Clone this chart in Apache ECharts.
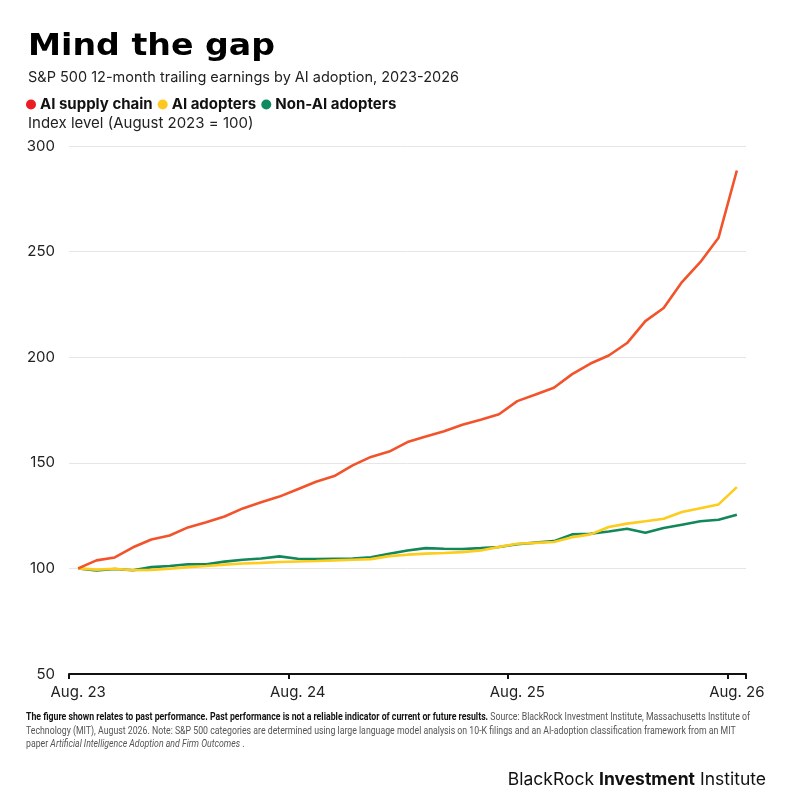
<!DOCTYPE html>
<html>
<head>
<meta charset="utf-8">
<script src="https://cdn.jsdelivr.net/npm/echarts@6/dist/echarts.min.js"></script>
<style>
  html, body { margin: 0; padding: 0; background: #fff; }
  #chart { width: 800px; height: 800px; }
</style>
</head>
<body>
<div id="chart"></div>
<script>
// monthly, Aug 2023 .. Aug 2026
var months = [
  'Aug. 23', 'Sep. 23', 'Oct. 23', 'Nov. 23', 'Dec. 23', 'Jan. 24', 'Feb. 24', 'Mar. 24', 'Apr. 24', 'May 24', 'Jun. 24', 'Jul. 24',
  'Aug. 24', 'Sep. 24', 'Oct. 24', 'Nov. 24', 'Dec. 24', 'Jan. 25', 'Feb. 25', 'Mar. 25', 'Apr. 25', 'May 25', 'Jun. 25', 'Jul. 25',
  'Aug. 25', 'Sep. 25', 'Oct. 25', 'Nov. 25', 'Dec. 25', 'Jan. 26', 'Feb. 26', 'Mar. 26', 'Apr. 26', 'May 26', 'Jun. 26', 'Jul. 26',
  'Aug. 26'
];

var supplyChain = [
  100, 103.8, 105.2, 110, 113.7, 115.6, 119.4, 121.8, 124.6, 128.4, 131.3, 134,
  137.5, 141, 143.7, 148.8, 152.8, 155.3, 159.8, 162.5, 164.9, 168, 170.4, 173,
  179.2, 182.3, 185.5, 192, 197, 200.8, 206.7, 217.1, 223.3, 235.6, 245, 256.6,
  288.4
];

var adopters = [
  100, 99.4, 99.8, 99.1, 99.3, 99.8, 100.6, 101.1, 101.8, 102.3, 102.6, 103,
  103.3, 103.5, 103.8, 104.1, 104.4, 105.8, 106.5, 107, 107.3, 107.7, 108.5, 110.2,
  111.7, 112.1, 112.5, 114.8, 116.1, 119.6, 121.2, 122.3, 123.5, 126.7, 128.5, 130.3,
  138.5
];

var nonAdopters = [
  100, 99, 99.7, 99.1, 100.6, 101.1, 102, 101.9, 103.2, 104.1, 104.7, 105.7,
  104.6, 104.4, 104.6, 104.7, 105.3, 106.9, 108.5, 109.6, 109.3, 109.2, 109.6, 110.1,
  111.4, 112.2, 112.9, 116.1, 116.4, 117.5, 118.8, 116.9, 119.1, 120.7, 122.3, 123,
  125.4
];

var seriesNames = ['AI supply chain', 'AI adopters', 'Non-AI adopters'];
var lineColors = ['#f2532a', '#fdcc1c', '#12875a'];
var dotColors = ['#ec1c24', '#ffc820', '#0f8a5f'];

var font = 'Inter, "Noto Sans", sans-serif';
var noteFont = 'Roboto, "Noto Sans", sans-serif';
var titleFont = 'bold 31px "DejaVu Sans", sans-serif';

var titleText = 'Mind the gap';
var noteBold = 'The figure shown relates to past performance. Past performance is not a reliable indicator of current or future results.';
var noteLine1 = ' Source: BlackRock Investment Institute, Massachusetts Institute of';
var noteLine2 = 'Technology (MIT), August 2026. Note: S&P 500 categories are determined using large language model analysis on 10-K filings and an AI-adoption classification framework from an MIT';

// fit widths of the title (wide face) and the note (condensed face) to the original
var ctx = document.createElement('canvas').getContext('2d');
ctx.font = titleFont;
var titleScale = 247 / ctx.measureText(titleText).width;
ctx.font = 'bold 10.5px ' + noteFont;
var w1 = ctx.measureText(noteBold).width;
ctx.font = '10.5px ' + noteFont;
w1 += ctx.measureText(noteLine1).width;
var w2 = ctx.measureText(noteLine2).width;
var noteScale = 724 / Math.max(w1, w2);

var myChart = echarts.init(document.getElementById('chart'), null, { renderer: 'canvas' });

myChart.setOption({
  animation: false,
  backgroundColor: '#fff',
  textStyle: { fontFamily: font },
  grid: { left: 69, right: 54, top: 146, bottom: 126 },
  legend: {
    left: 21,
    top: 92,
    icon: 'circle',
    itemWidth: 10,
    itemHeight: 10,
    itemGap: 5,
    textStyle: { fontFamily: font, fontSize: 15, fontWeight: 'bold', color: '#111', padding: [0, 0, 0, -1] },
    data: seriesNames.map(function (n, i) {
      return { name: n, itemStyle: { color: dotColors[i] } };
    })
  },
  xAxis: {
    type: 'category',
    data: months,
    boundaryGap: true,
    axisLine: { lineStyle: { color: '#111', width: 2 } },
    axisTick: { show: true, interval: 11, length: 5, lineStyle: { color: '#111', width: 2 } },
    axisLabel: { interval: 11, color: '#222', fontSize: 15, margin: 11, fontFamily: font },
    splitLine: { show: false }
  },
  yAxis: {
    type: 'value',
    min: 50,
    max: 300,
    interval: 50,
    axisLine: { show: false },
    axisTick: { show: false },
    axisLabel: { color: '#222', fontSize: 15, margin: 14, fontFamily: font },
    splitLine: { lineStyle: { color: '#e6e6e6', width: 1 } }
  },
  series: [
    { name: seriesNames[0], data: supplyChain },
    { name: seriesNames[1], data: adopters },
    { name: seriesNames[2], data: nonAdopters }
  ].map(function (s, i) {
    return {
      name: s.name,
      type: 'line',
      data: s.data,
      symbol: 'none',
      z: 10 - i,
      lineStyle: { color: lineColors[i], width: 2.6 },
      itemStyle: { color: lineColors[i] }
    };
  }),
  graphic: [
    {
      type: 'text', x: 28, y: 31, scaleX: titleScale,
      style: { text: titleText, font: titleFont, fill: '#000' }
    },
    {
      type: 'text', left: 28, top: 70,
      style: { text: 'S&P 500 12-month trailing earnings by AI adoption, 2023-2026', font: '14.5px ' + font, fill: '#222' }
    },
    {
      type: 'text', left: 28, top: 116,
      style: { text: 'Index level (August 2023 = 100)', font: '15px ' + font, fill: '#222' }
    },
    {
      type: 'text', x: 26, y: 711, scaleX: noteScale,
      style: {
        text: '{b|' + noteBold + '}' + noteLine1 + '\n' + noteLine2 + '\n' +
              'paper {i|Artificial Intelligence Adoption and Firm Outcomes} .',
        font: '10.5px ' + noteFont,
        fill: '#555',
        lineHeight: 13.5,
        rich: {
          b: { fontFamily: noteFont, fontSize: 10.5, fontWeight: 'bold', fill: '#111', lineHeight: 13.5 },
          i: { fontFamily: noteFont, fontSize: 10.5, fontStyle: 'italic', fill: '#555', lineHeight: 13.5 }
        }
      }
    },
    {
      type: 'text', right: 34, top: 771,
      style: {
        text: 'BlackRock {b|Investment} Institute',
        font: '17.5px ' + font,
        fill: '#111',
        rich: {
          b: { fontFamily: font, fontSize: 17.5, fontWeight: 'bold', fill: '#111' }
        }
      }
    }
  ]
});
</script>
</body>
</html>
